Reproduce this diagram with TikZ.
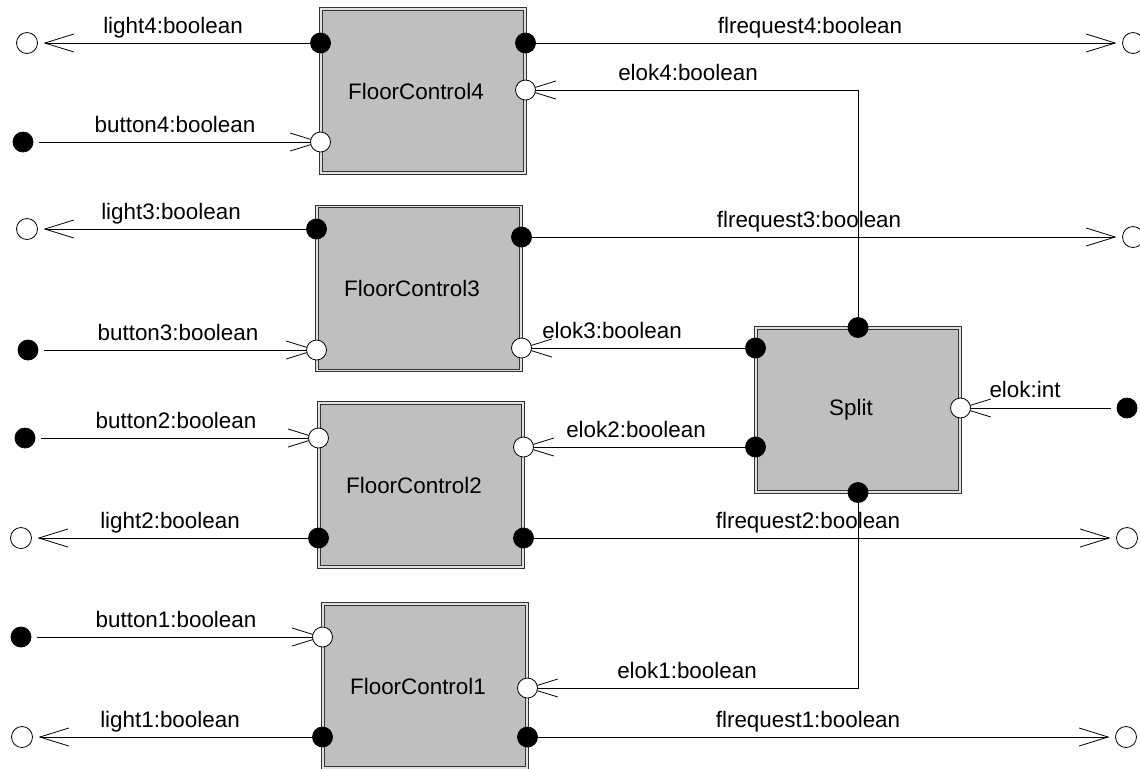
\documentclass[tikz,border=0pt]{standalone}
\usepackage{fontspec}
\setmainfont{Liberation Sans}
\usepackage{tikz}
\usetikzlibrary{arrows.meta,calc}
\pgfdeclarelayer{wires}
\pgfsetlayers{wires,main}

\tikzset{
  block/.style={draw=black!80, double=black!12, double distance=0.8pt, line width=0.5pt,
                fill=black!25, minimum width=102pt, minimum height=82pt, inner sep=0pt,
                execute at begin node={\hspace*{-7pt}}},
  outport/.style={circle, draw=black, fill=black, line width=0.4pt, minimum size=10pt, inner sep=0pt},
  inport/.style={circle, draw=black, fill=white, line width=0.4pt, minimum size=10pt, inner sep=0pt},
  srcpin/.style={outport, outer sep=3pt},
  sinkpin/.style={inport, minimum size=10.5pt, outer sep=3pt},
  sigtext/.style={anchor=base, inner sep=0pt},
}

\begin{document}
\begin{tikzpicture}[x=0.5pt, y=-0.5pt, line width=0.5pt,
    >={Straight Barb[length=14.5pt, width=9pt]},
    font=\fontsize{11.2}{13.4}\selectfont]
    \useasboundingbox (0,0) rectangle (1140,768);

    % blocks
    \node[block] (fc4) at (423,91) {FloorControl4};
    \node[block] (fc3) at (419,288.5) {FloorControl3};
    \node[block] (fc2) at (421,485) {FloorControl2};
    \node[block] (fc1) at (425,686) {FloorControl1};
    \node[block] (split) at (858,410) {Split};

    % ports of the blocks
    \node[outport] (fc4-light) at (fc4.west |- 0,43) {};
    \node[inport]  (fc4-button) at (fc4.west |- 0,142) {};
    \node[outport] (fc4-flreq) at (fc4.east |- 0,43) {};
    \node[inport]  (fc4-elok) at (fc4.east |- 0,90) {};

    \node[outport] (fc3-light) at (fc3.west |- 0,229) {};
    \node[inport]  (fc3-button) at (fc3.west |- 0,350) {};
    \node[outport] (fc3-flreq) at (fc3.east |- 0,237) {};
    \node[inport]  (fc3-elok) at (fc3.east |- 0,348) {};

    \node[inport]  (fc2-button) at (fc2.west |- 0,438) {};
    \node[outport] (fc2-light) at (fc2.west |- 0,538) {};
    \node[inport]  (fc2-elok) at (fc2.east |- 0,447) {};
    \node[outport] (fc2-flreq) at (fc2.east |- 0,538) {};

    \node[inport]  (fc1-button) at (fc1.west |- 0,637) {};
    \node[outport] (fc1-light) at (fc1.west |- 0,737) {};
    \node[inport]  (fc1-elok) at (fc1.east |- 0,688) {};
    \node[outport] (fc1-flreq) at (fc1.east |- 0,737) {};

    \node[outport] (split-up) at (split.north) {};
    \node[outport] (split-down) at (split.south) {};
    \node[outport] (split-e3) at (split.west |- 0,348) {};
    \node[outport] (split-e2) at (split.west |- 0,447) {};
    \node[inport]  (split-in) at (split.east |- 0,408) {};

    % outer pins
    \node[sinkpin] (light4) at (27,43) {};
    \node[srcpin]  (button4) at (23,142) {};
    \node[sinkpin] (light3) at (27,229) {};
    \node[srcpin]  (button3) at (28,350) {};
    \node[srcpin]  (button2) at (25,438) {};
    \node[sinkpin] (light2) at (21,538) {};
    \node[srcpin]  (button1) at (21,637) {};
    \node[sinkpin] (light1) at (22,737) {};
    \node[sinkpin] (flreq4) at (1133,43) {};
    \node[sinkpin] (flreq3) at (1133,237) {};
    \node[sinkpin] (flreq2) at (1127,538) {};
    \node[sinkpin] (flreq1) at (1126,737) {};
    \node[srcpin]  (elok) at (1127,408) {};

    % signal names
    \node[sigtext] (t-light4) at (173,33) {light4:boolean};
    \node[sigtext] (t-button4) at (175,132) {button4:boolean};
    \node[sigtext] (t-flreq4) at (810,33) {flrequest4:boolean};
    \node[sigtext] (t-elok4) at (688,80) {elok4:boolean};
    \node[sigtext] (t-light3) at (171,219) {light3:boolean};
    \node[sigtext] (t-button3) at (178,340) {button3:boolean};
    \node[sigtext] (t-flreq3) at (809,227) {flrequest3:boolean};
    \node[sigtext] (t-elok3) at (612,338) {elok3:boolean};
    \node[sigtext] (t-button2) at (176,428) {button2:boolean};
    \node[sigtext] (t-elok2) at (636,437) {elok2:boolean};
    \node[sigtext] (t-light2) at (170,528) {light2:boolean};
    \node[sigtext] (t-flreq2) at (808,528) {flrequest2:boolean};
    \node[sigtext] (t-button1) at (176,627) {button1:boolean};
    \node[sigtext] (t-elok1) at (687,678) {elok1:boolean};
    \node[sigtext] (t-light1) at (170,727) {light1:boolean};
    \node[sigtext] (t-flreq1) at (808,727) {flrequest1:boolean};
    \node[sigtext] (t-elok) at (1025,397) {elok:int};

    \begin{pgfonlayer}{wires}
    \draw[->] (fc4-light) -- (light4);
    \draw[->] (button4) -- (fc4-button.center);
    \draw[->] (fc4-flreq) -- (flreq4);
    \draw[->] (fc3-light) -- (light3);
    \draw[->] (button3) -- (fc3-button.center);
    \draw[->] (fc3-flreq) -- (flreq3);
    \draw[->] (button2) -- (fc2-button.center);
    \draw[->] (fc2-light) -- (light2);
    \draw[->] (fc2-flreq) -- (flreq2);
    \draw[->] (button1) -- (fc1-button.center);
    \draw[->] (fc1-light) -- (light1);
    \draw[->] (fc1-flreq) -- (flreq1);
    % elok bits out of the split block
    \draw[->] (split-up.center) |- (fc4-elok.center);
    \draw[->] (split-e3.center) -- (fc3-elok.center);
    \draw[->] (split-e2.center) -- (fc2-elok.center);
    \draw[->] (split-down.center) |- (fc1-elok.center);
    \draw[->] (elok) -- (split-in.center);
    \end{pgfonlayer}
\end{tikzpicture}
\end{document}
